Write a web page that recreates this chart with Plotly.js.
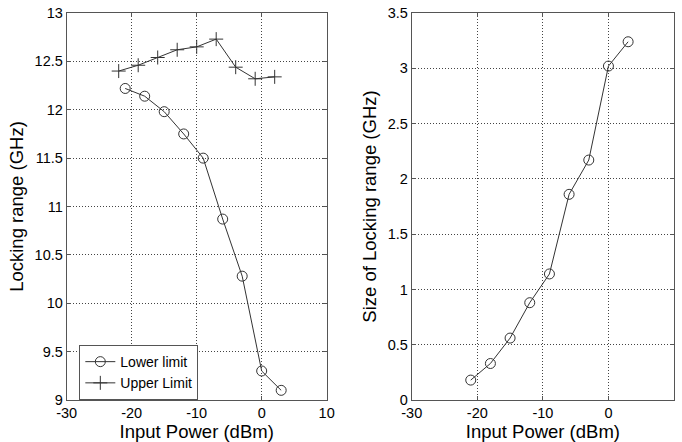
<!DOCTYPE html>
<html>
<head>
<meta charset="utf-8">
<script src="https://cdn.plot.ly/plotly-3.0.1.min.js"></script>
<style>html,body{margin:0;padding:0;background:#fff;}#plot{width:682px;height:442px;}</style>
</head>
<body>
<div id="plot"></div>
<script>
// Left panel: locking range limits
const lowerPower = [-21, -18, -15, -12, -9, -6, -3, 0, 3];
const lowerLimit = [12.22, 12.14, 11.98, 11.75, 11.50, 10.87, 10.28, 9.30, 9.10];
const upperPower = [-22, -19, -16, -13, -10, -7, -4, -1, 2];
const upperLimit = [12.40, 12.46, 12.54, 12.62, 12.65, 12.73, 12.44, 12.32, 12.34];
// Right panel: size of locking range
const sizePower = [-21, -18, -15, -12, -9, -6, -3, 0, 3];
const sizeRange = [0.18, 0.33, 0.56, 0.88, 1.14, 1.86, 2.17, 3.02, 3.24];

const xTickVals = [-30, -20, -10, 0, 10];
const leftYTicks = [9, 9.5, 10, 10.5, 11, 11.5, 12, 12.5, 13];
const rightYTicks = [0, 0.5, 1, 1.5, 2, 2.5, 3, 3.5];

const lineCol = '#333333';
const fontFam = 'Liberation Sans, Arial, sans-serif';

const traces = [
  {x: lowerPower, y: lowerLimit, xaxis: 'x', yaxis: 'y', name: 'Lower limit', mode: 'lines+markers',
   line: {color: lineCol, width: 1},
   marker: {symbol: 'circle-open', size: 10, color: lineCol, line: {width: 1, color: lineCol}}},
  {x: upperPower, y: upperLimit, xaxis: 'x', yaxis: 'y', name: 'Upper Limit', mode: 'lines+markers',
   line: {color: lineCol, width: 1},
   marker: {symbol: 'cross-thin-open', size: 10, color: lineCol, line: {width: 1, color: lineCol}}},
  {x: sizePower, y: sizeRange, xaxis: 'x2', yaxis: 'y2', name: 'Size', mode: 'lines+markers', showlegend: false,
   line: {color: lineCol, width: 1},
   marker: {symbol: 'circle-open', size: 10, color: lineCol, line: {width: 1, color: lineCol}}}
];

function xax(domain, anchor) {
  return {
    domain: domain, anchor: anchor, range: [-30, 10], tickvals: xTickVals, ticktext: xTickVals.map(String),
    showgrid: true, gridcolor: '#444', griddash: '1px,2px', gridwidth: 1,
    showline: true, mirror: 'ticks', linecolor: '#555', linewidth: 1,
    ticks: 'inside', ticklen: 4, tickcolor: '#555', zeroline: false,
    tickfont: {size: 14.5, color: '#000', family: fontFam},
    automargin: false,
    title: {text: 'Input Power (dBm)', font: {size: 18.5, color: '#000', family: fontFam}, standoff: 1}
  };
}
function yax(domain, anchor, range, ticks, title) {
  return {
    domain: domain, anchor: anchor, range: range, tickvals: ticks, ticktext: ticks.map(String),
    showgrid: true, gridcolor: '#444', griddash: '1px,2px', gridwidth: 1,
    showline: true, mirror: 'ticks', linecolor: '#555', linewidth: 1,
    ticks: 'inside', ticklen: 4, tickcolor: '#555', zeroline: false,
    tickfont: {size: 14.5, color: '#000', family: fontFam},
    automargin: false,
    title: {text: title, font: {size: 18.5, color: '#000', family: fontFam}, standoff: 6}
  };
}

const layout = {
  width: 682, height: 442,
  margin: {l: 0, r: 0, t: 13, b: 42},
  paper_bgcolor: '#fff', plot_bgcolor: '#fff',
  font: {family: fontFam, color: '#000'},
  showlegend: true,
  legend: {x: 0.1163, y: 0.142, xanchor: 'left', yanchor: 'top', bgcolor: '#fff',
    bordercolor: '#555', borderwidth: 1, font: {size: 14, color: '#000', family: fontFam},
    tracegroupgap: 0, itemwidth: 30},
  xaxis: xax([0.0978, 0.4790], 'y'),
  yaxis: yax([0, 1], 'x', [9, 13], leftYTicks, 'Locking range (GHz)'),
  xaxis2: xax([0.6037, 0.9883], 'y2'),
  yaxis2: yax([0, 1], 'x2', [0, 3.5], rightYTicks, 'Size of Locking range (GHz)')
};

Plotly.newPlot('plot', traces, layout, {displayModeBar: false, staticPlot: true});
</script>
</body>
</html>
